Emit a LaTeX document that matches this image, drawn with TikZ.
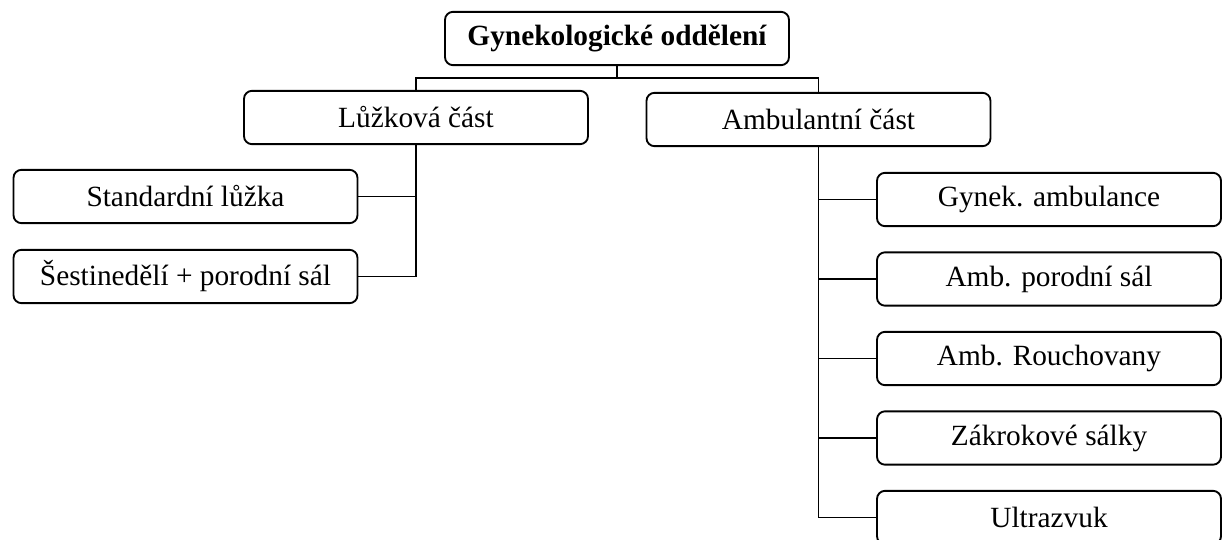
\documentclass[tikz,border=0pt]{standalone}
\usepackage{fontspec}
\setmainfont{Liberation Serif}
\tikzset{
  box/.style={draw, rounded corners=6pt, line width=1.4pt, inner sep=0pt,
    minimum width=258pt, minimum height=40pt, font=\fontsize{22}{26}\selectfont},
  link/.style={line width=1.3pt}
}
\begin{document}
\begin{tikzpicture}[x=0.75pt,y=-0.75pt]
\useasboundingbox (0,0) rectangle (1223,539);

\node[box,font=\fontsize{22}{26}\selectfont\bfseries] (oddeleni) at (617,38.5){Gynekologické oddělení};
\node[box] (luzkova) at (416,117.5){Lůžková část};
\node[box] (ambul) at (818.5,119.5){Ambulantní část};
\node[box] (standard) at (185.5,196.5){Standardní lůžka};
\node[box] (sestined) at (185.5,276.5){Šestinedělí + porodní sál};
\node[box] (gynamb) at (1049,199.5){Gynek. ambulance};
\node[box] (ambpor) at (1049,279){Amb. porodní sál};
\node[box] (ambrou) at (1049,358.5){Amb. Rouchovany};
\node[box] (zakrok) at (1049,438){Zákrokové sálky};
\node[box] (ultra) at (1049,517.5){Ultrazvuk};

\coordinate (split) at (617,78);
\draw[link] (oddeleni) -- (split);
\draw[link] (luzkova.north) |- (split) -| (ambul.north);

\draw[link] (luzkova.south) |- (sestined.east);
\draw[link] (standard.east) -- (standard.east -| luzkova.south);

\draw[link] (ambul.south) |- (ultra.west);
\foreach \n in {gynamb,ambpor,ambrou,zakrok}
  \draw[link] (\n.west) -- (\n.west -| ambul.south);
\end{tikzpicture}
\end{document}
